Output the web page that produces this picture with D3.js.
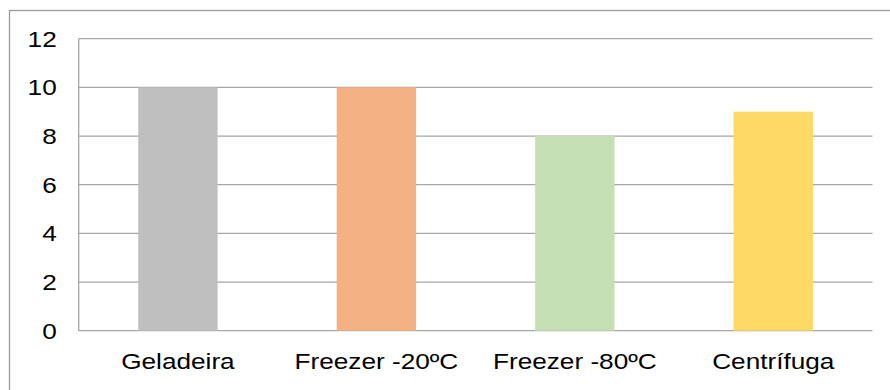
<!DOCTYPE html>
<html>
<head>
<meta charset="utf-8">
<script src="https://cdn.jsdelivr.net/npm/d3@7"></script>
<style>
  html, body { margin: 0; padding: 0; background: #fff; }
  svg { display: block; }
  text { font-family: "Liberation Sans", Arial, sans-serif; font-size: 22px; fill: #000; }
</style>
</head>
<body>
<svg id="chart" width="890" height="390"></svg>
<script>
const categories = ["Geladeira", "Freezer -20ºC", "Freezer -80ºC", "Centrífuga"];
const values = [10, 10, 8, 9];
const colors = ["#BFBFBF", "#F4B183", "#C5E0B4", "#FFD966"];
const yTicks = [0, 2, 4, 6, 8, 10, 12];

(function () {
const svg = d3.select("#chart");
const pLeft = 78.7, pRight = 872.5, pTop = 38.7, pBottom = 330.7;
const sx = 1.19;

// outer chart border
svg.append("rect")
  .attr("x", 9.5).attr("y", 10.5)
  .attr("width", 900).attr("height", 400)
  .attr("fill", "none").attr("stroke", "#9a9a9a").attr("stroke-width", 1.3);

const x = d3.scaleBand().domain(categories).range([pLeft, pRight]).padding(0);
const y = d3.scaleLinear().domain([0, 12]).range([pBottom, pTop]);

// gridlines
svg.append("g").selectAll("line").data(yTicks).join("line")
  .attr("x1", pLeft).attr("x2", pRight)
  .attr("y1", d => y(d)).attr("y2", d => y(d))
  .attr("stroke", "#a6a6a6").attr("stroke-width", 1.3);

// bars
const bw = x.bandwidth() * 0.4;
svg.append("g").selectAll("rect").data(categories).join("rect")
  .attr("x", d => x(d) + (x.bandwidth() - bw) / 2)
  .attr("y", (d, i) => y(values[i]))
  .attr("width", bw)
  .attr("height", (d, i) => y(0) - y(values[i]))
  .attr("fill", (d, i) => colors[i]);

// y axis line
svg.append("line")
  .attr("x1", pLeft).attr("x2", pLeft)
  .attr("y1", pTop).attr("y2", pBottom)
  .attr("stroke", "#a6a6a6").attr("stroke-width", 1.3);

// y tick labels
svg.append("g").selectAll("text").data(yTicks).join("text")
  .attr("transform", d => `translate(${pLeft - 22},${y(d)}) scale(${sx},1)`)
  .attr("dy", "0.36em")
  .attr("text-anchor", "end")
  .text(d => d);

// x labels
svg.append("g").selectAll("text").data(categories).join("text")
  .attr("transform", d => `translate(${x(d) + x.bandwidth() / 2},369) scale(${sx},1)`)
  .attr("text-anchor", "middle")
  .text(d => d);
})();
</script>
</body>
</html>
